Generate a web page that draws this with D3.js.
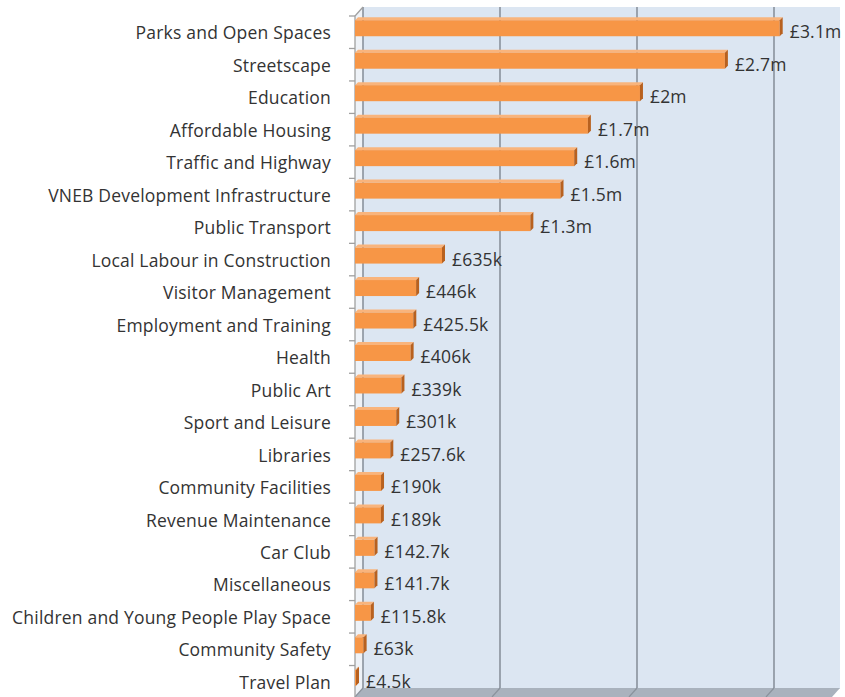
<!DOCTYPE html>
<html>
<head>
<meta charset="utf-8">
<script src="https://cdn.jsdelivr.net/npm/d3@7"></script>
<style>
  body { margin: 0; background: #fff; }
  text { font-family: "Open Sans", sans-serif; fill: #333; letter-spacing: 0.2px; }
</style>
</head>
<body>
<svg width="845" height="697"></svg>
<script>
var categories = ["Parks and Open Spaces", "Streetscape", "Education", "Affordable Housing",
  "Traffic and Highway", "VNEB Development Infrastructure", "Public Transport",
  "Local Labour in Construction", "Visitor Management", "Employment and Training", "Health",
  "Public Art", "Sport and Leisure", "Libraries", "Community Facilities", "Revenue Maintenance",
  "Car Club", "Miscellaneous", "Children and Young People Play Space", "Community Safety", "Travel Plan"];

var values = [3100000, 2700000, 2080000, 1700000, 1600000, 1500000, 1280000,
  635000, 446000, 425500, 406000, 339000, 301000, 257600, 190000, 189000,
  142700, 141700, 115800, 63000, 4500];

var valueLabels = ["£3.1m", "£2.7m", "£2m", "£1.7m", "£1.6m", "£1.5m", "£1.3m",
  "£635k", "£446k", "£425.5k", "£406k", "£339k", "£301k", "£257.6k", "£190k", "£189k",
  "£142.7k", "£141.7k", "£115.8k", "£63k", "£4.5k"];

var gridTicks = [0, 1000000, 2000000, 3000000];

var svg = d3.select("svg"),
    depthX = 8, depthY = 9,
    front = {left: 355, top: 16, bottom: 698},
    wallRight = 840;

var x = d3.scaleLinear().domain([0, 3500000]).range([front.left, front.left + 3.5 * 137]);
var y = d3.scaleBand().domain(categories).range([front.top, front.bottom]);

var data = categories.map(function(c, i) { return {name: c, value: values[i], label: valueLabels[i]}; });

// back wall
svg.append("rect")
    .attr("x", front.left + depthX).attr("y", front.top - depthY)
    .attr("width", wallRight - front.left - depthX)
    .attr("height", front.bottom - front.top)
    .attr("fill", "#dce6f2");

// left wall
svg.append("path")
    .attr("d", "M" + front.left + "," + front.top + "L" + (front.left + depthX) + "," + (front.top - depthY) +
      "L" + (front.left + depthX) + "," + (697 - depthY) + "L" + front.left + ",697Z")
    .attr("fill", "#eef2f7");

// floor
svg.append("path")
    .attr("d", "M" + front.left + ",697L" + (front.left + depthX) + "," + (697 - depthY) +
      "L" + wallRight + "," + (697 - depthY) + "L" + (wallRight - depthX) + ",697Z")
    .attr("fill", "#a9b2bd");

// gridlines on back wall + floor diagonal
var grid = svg.append("g").selectAll("g").data(gridTicks).enter().append("g");
grid.append("line")
    .attr("x1", function(d) { return x(d) + depthX; })
    .attr("x2", function(d) { return x(d) + depthX; })
    .attr("y1", front.top - depthY)
    .attr("y2", 697 - depthY)
    .attr("stroke", "#8a929c").attr("stroke-width", 1.6);
grid.append("line")
    .attr("x1", function(d) { return x(d) + depthX; })
    .attr("x2", function(d) { return x(d); })
    .attr("y1", 697 - depthY)
    .attr("y2", 697)
    .attr("stroke", "#8a929c").attr("stroke-width", 1.2);

// front axis line + top diagonal
svg.append("path")
    .attr("d", "M" + front.left + ",697L" + front.left + "," + front.top + "L" + (front.left + depthX) + "," + (front.top - depthY))
    .attr("fill", "none").attr("stroke", "#a0a0a0").attr("stroke-width", 1.3);

// category ticks
svg.append("g").selectAll("line")
    .data(d3.range(categories.length + 1))
    .enter().append("line")
    .attr("x1", front.left - 6).attr("x2", front.left)
    .attr("y1", function(i) { return front.top + i * y.step(); })
    .attr("y2", function(i) { return front.top + i * y.step(); })
    .attr("stroke", "#a0a0a0").attr("stroke-width", 1.3);

// bars (3d-ish)
var bars = svg.append("g").selectAll("g").data(data).enter().append("g")
    .attr("transform", function(d) { return "translate(0," + (y(d.name) + y.bandwidth() / 2) + ")"; });

var bh = 16, bd = 3;
bars.append("path")
    .attr("d", function(d) {
      var x0 = x(0), x1 = x(d.value);
      return "M" + x0 + "," + (-12) + "L" + (x0 + bd) + "," + (-12 - bd) + "L" + (x1 + bd) + "," + (-12 - bd) + "L" + x1 + "," + (-12) + "Z";
    })
    .attr("fill", "#f9b47c");
bars.append("rect")
    .attr("x", x(0))
    .attr("y", -12)
    .attr("width", function(d) { return Math.max(1, x(d.value) - x(0)); })
    .attr("height", bh)
    .attr("fill", "#f79646");
bars.append("path")
    .attr("d", function(d) {
      var x1 = Math.max(x(d.value), x(0) + 1);
      return "M" + x1 + "," + (-12) + "L" + (x1 + bd) + "," + (-12 - bd) + "L" + (x1 + bd) + "," + (-12 + bh - bd) + "L" + x1 + "," + (-12 + bh) + "Z";
    })
    .attr("fill", "#b8611f");

bars.append("text")
    .attr("x", function(d) { return Math.max(x(d.value), x(0) + 1) + bd + 7; })
    .attr("y", 0)
    .attr("dy", "0.35em")
    .style("font-size", "17.5px")
    .text(function(d) { return d.label; });

// category labels
svg.append("g").selectAll("text")
    .data(categories)
    .enter().append("text")
    .attr("x", 331)
    .attr("y", function(d) { return y(d) + y.bandwidth() / 2 + 1; })
    .attr("dy", "0.35em")
    .attr("text-anchor", "end")
    .style("font-size", "17.5px")
    .text(function(d) { return d; });
</script>
</body>
</html>
